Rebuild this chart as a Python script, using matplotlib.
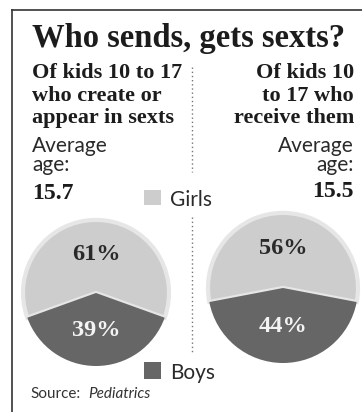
import matplotlib.pyplot as plt
from matplotlib.patches import Rectangle

# data read from the graphic
groups = ["Of kids 10 to 17\nwho create or\nappear in sexts",
          "Of kids 10\nto 17 who\nreceive them"]
avg_age = [15.7, 15.5]
girls_pct = [61, 56]
boys_pct = [39, 44]
series = ["Girls", "Boys"]
colors = ["#cdcdcd", "#666666"]

W, H = 362, 412
fig = plt.figure(figsize=(W / 100, H / 100), dpi=100)
ax = fig.add_axes([0, 0, 1, 1])

serif = "Liberation Serif"
sans = "Lato"
ink = "#1c1c1c"

def Y(y):
    # pixel row (from top) -> data y
    return H - y

# frame lines (top and left only, the rest is cropped)
ax.plot([12, W], [Y(10), Y(10)], color="#333333", lw=1.2)
ax.plot([12, 12], [Y(10), 0], color="#333333", lw=1.2)

ax.text(32, Y(47), "Who sends, gets sexts?", fontsize=23.5, fontweight="bold",
        family=serif, color=ink, va="baseline", ha="left")

# column headers
xs = [32, 354]
aligns = ["left", "right"]
for i in range(2):
    for j, line in enumerate(groups[i].split("\n")):
        ax.text(xs[i], Y(78 + 22.5 * j), line, fontsize=16, fontweight="bold",
                family=serif, color=ink, ha=aligns[i], va="baseline")
    ax.text(xs[i], Y(152), "Average", fontsize=15, family=sans, color="#2a2a2a",
            ha=aligns[i], va="baseline")
    ax.text(xs[i], Y(171), "age:", fontsize=15, family=sans, color="#2a2a2a",
            ha=aligns[i], va="baseline")
    ax.text(xs[i], Y(199 - 2 * i), f"{avg_age[i]}", fontsize=17, fontweight="bold",
            family=serif, color=ink, ha=aligns[i], va="baseline")

# dotted divider
ax.plot([192, 192], [Y(67), Y(172)], color="#777777", lw=1, ls=(0, (1, 2)))
ax.plot([192, 192], [Y(217), Y(352)], color="#777777", lw=1, ls=(0, (1, 2)))

# pies
centers = [(96, Y(293)), (283, Y(288))]
radii = [73, 75]
for i in range(2):
    vals = [girls_pct[i], boys_pct[i]]
    start = 270 - 360 * vals[0] / 100 - 360 * vals[1] / 200
    wedges, texts, autotexts = ax.pie(
        vals, colors=colors, startangle=start, center=centers[i], radius=radii[i],
        explode=[0.1, 0], autopct=lambda p: f"{p:.0f}%", pctdistance=0.52,
        frame=True, wedgeprops=dict(linewidth=0))
    wedges[0].set_edgecolor("#e6e6e6")
    wedges[0].set_linewidth(3)
    for t, c in zip(autotexts, ["#2a2a2a", "#f4f4f4"]):
        t.set_fontsize(17.5)
        t.set_fontweight("bold")
        t.set_family(serif)
        t.set_color(c)

# legend squares
ax.add_patch(Rectangle((144, Y(205)), 17, 15, facecolor=colors[0], edgecolor="none"))
ax.text(170, Y(206), series[0], fontsize=15, family=sans, color="#2a2a2a", va="baseline")
ax.add_patch(Rectangle((144, Y(379)), 17, 17, facecolor=colors[1], edgecolor="none"))
ax.text(170, Y(379), series[1], fontsize=15, family=sans, color="#2a2a2a", va="baseline")

ax.text(30, Y(398), "Source:", fontsize=11, family=sans, color="#333333", va="baseline")
ax.text(88, Y(398), "Pediatrics", fontsize=11, family=sans, style="italic",
        color="#333333", va="baseline")

ax.set_xlim(0, W)
ax.set_ylim(0, H)
ax.axis("off")

fig.savefig("out.png", dpi=100)
